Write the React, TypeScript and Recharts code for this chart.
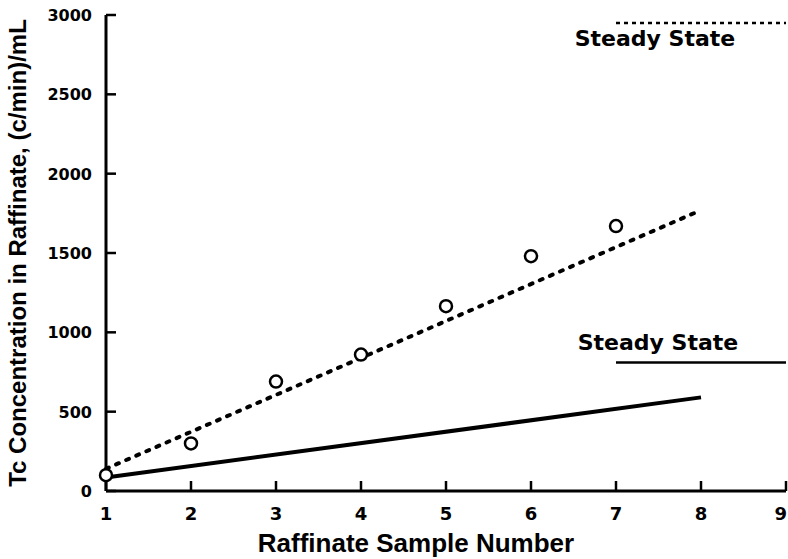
import React from 'react';
import { ComposedChart, Line, Scatter, XAxis, YAxis, ReferenceLine } from 'recharts';

const sampleNumbers = [1, 2, 3, 4, 5, 6, 7];
const measuredConc = [100, 300, 690, 860, 1165, 1480, 1670];
const dashedFitX = [1, 8];
const dashedFitY = [140, 1770];
const solidFitX = [1, 8];
const solidFitY = [85, 590];
const steadyStart = 7;
const steadyEnd = 9;
const steadyUpper = 2950;
const steadyLower = 810;
const xTicks = [1, 2, 3, 4, 5, 6, 7, 8, 9];
const yTicks = [0, 500, 1000, 1500, 2000, 2500, 3000];

const measured = sampleNumbers.map((x, i) => ({ x, y: measuredConc[i] }));
const dashedFit = dashedFitX.map((x, i) => ({ x, y: dashedFitY[i] }));
const solidFit = solidFitX.map((x, i) => ({ x, y: solidFitY[i] }));

const TICK_FONT = 'DejaVu Sans';
const LABEL_FONT = 'Liberation Sans';

const YTick = (props: any) => {
  const { x, y, payload } = props;
  return (
    <g>
      <line x1={x + 14} y1={y} x2={x + 24} y2={y} stroke="#000" strokeWidth={2.5} />
      <text x={x} y={y} dy={6} textAnchor="end" fontFamily={TICK_FONT} fontWeight="bold" fontSize={16} fill="#000">
        {payload.value}
      </text>
    </g>
  );
};

const XTick = (props: any) => {
  const { x, y, payload, index } = props;
  const last = index === xTicks.length - 1;
  return (
    <g>
      <line x1={x} y1={y} x2={x} y2={y - 10} stroke="#000" strokeWidth={2.5} />
      <text
        x={last ? x + 1 : x}
        y={y + 29}
        textAnchor={last ? 'end' : 'middle'}
        fontFamily={TICK_FONT}
        fontWeight="bold"
        fontSize={18}
        fill="#000"
      >
        {payload.value}
      </text>
    </g>
  );
};

const OpenCircle = (p: any) => (
  <circle cx={p.cx} cy={p.cy} r={6} fill="#fff" stroke="#000" strokeWidth={2.5} />
);

export default function App() {
  return (
    <div style={{ position: 'absolute', left: 0, top: 0, background: '#fff' }}>
      <ComposedChart width={788} height={559} margin={{ top: 15, right: 2, bottom: 0, left: 0 }}>
        <XAxis
          type="number"
          dataKey="x"
          domain={[1, 9]}
          ticks={xTicks}
          interval={0}
          height={68}
          tickSize={0}
          tickMargin={0}
          tickLine={false}
          tick={<XTick />}
          axisLine={{ stroke: '#000', strokeWidth: 3 }}
          label={{
            value: 'Raffinate Sample Number',
            position: 'insideBottom',
            offset: 7,
            dx: -30,
            style: { fontFamily: LABEL_FONT, fontWeight: 'bold', fontSize: 26, fill: '#000' },
          }}
        />
        <XAxis
          xAxisId="top"
          orientation="top"
          type="number"
          domain={[1, 9]}
          height={0}
          tick={false}
          tickLine={false}
          axisLine={{ stroke: '#000', strokeWidth: 2.5 }}
        />
        <YAxis
          type="number"
          domain={[0, 3000]}
          ticks={yTicks}
          interval={0}
          width={106}
          tickSize={0}
          tickMargin={14}
          tickLine={false}
          tick={<YTick />}
          axisLine={{ stroke: '#000', strokeWidth: 3 }}
          label={{
            value: 'Tc Concentration in Raffinate, (c/min)/mL',
            angle: -90,
            position: 'center',
            dx: -36,
            style: { fontFamily: LABEL_FONT, fontWeight: 'bold', fontSize: 24, fill: '#000' },
          }}
        />
        <YAxis
          yAxisId="right"
          orientation="right"
          type="number"
          domain={[0, 3000]}
          ticks={yTicks}
          width={0}
          mirror
          tickSize={9}
          tick={false}
          tickLine={{ stroke: '#000', strokeWidth: 2.5 }}
          axisLine={{ stroke: '#000', strokeWidth: 2.5 }}
        />
        <ReferenceLine
          segment={[{ x: steadyStart, y: steadyUpper }, { x: steadyEnd, y: steadyUpper }]}
          stroke="#000"
          strokeWidth={2.5}
          strokeDasharray="4 4"
          ifOverflow="visible"
          label={{
            value: 'Steady State',
            position: 'bottom',
            offset: 7,
            dx: -46,
            style: { fontFamily: TICK_FONT, fontWeight: 'bold', fontSize: 22, fill: '#000' },
          }}
        />
        <ReferenceLine
          segment={[{ x: steadyStart, y: steadyLower }, { x: steadyEnd, y: steadyLower }]}
          stroke="#000"
          strokeWidth={2.5}
          ifOverflow="visible"
          label={{
            value: 'Steady State',
            position: 'top',
            offset: 12,
            dx: -43,
            style: { fontFamily: TICK_FONT, fontWeight: 'bold', fontSize: 22, fill: '#000' },
          }}
        />
        <Line
          data={dashedFit}
          dataKey="y"
          type="linear"
          stroke="#000"
          strokeWidth={4}
          strokeDasharray="3 8"
          strokeLinecap="round"
          dot={false}
          activeDot={false}
          isAnimationActive={false}
        />
        <Line
          data={solidFit}
          dataKey="y"
          type="linear"
          stroke="#000"
          strokeWidth={4}
          dot={false}
          activeDot={false}
          isAnimationActive={false}
        />
        <Scatter data={measured} dataKey="y" shape={<OpenCircle />} isAnimationActive={false} />
      </ComposedChart>
    </div>
  );
}
